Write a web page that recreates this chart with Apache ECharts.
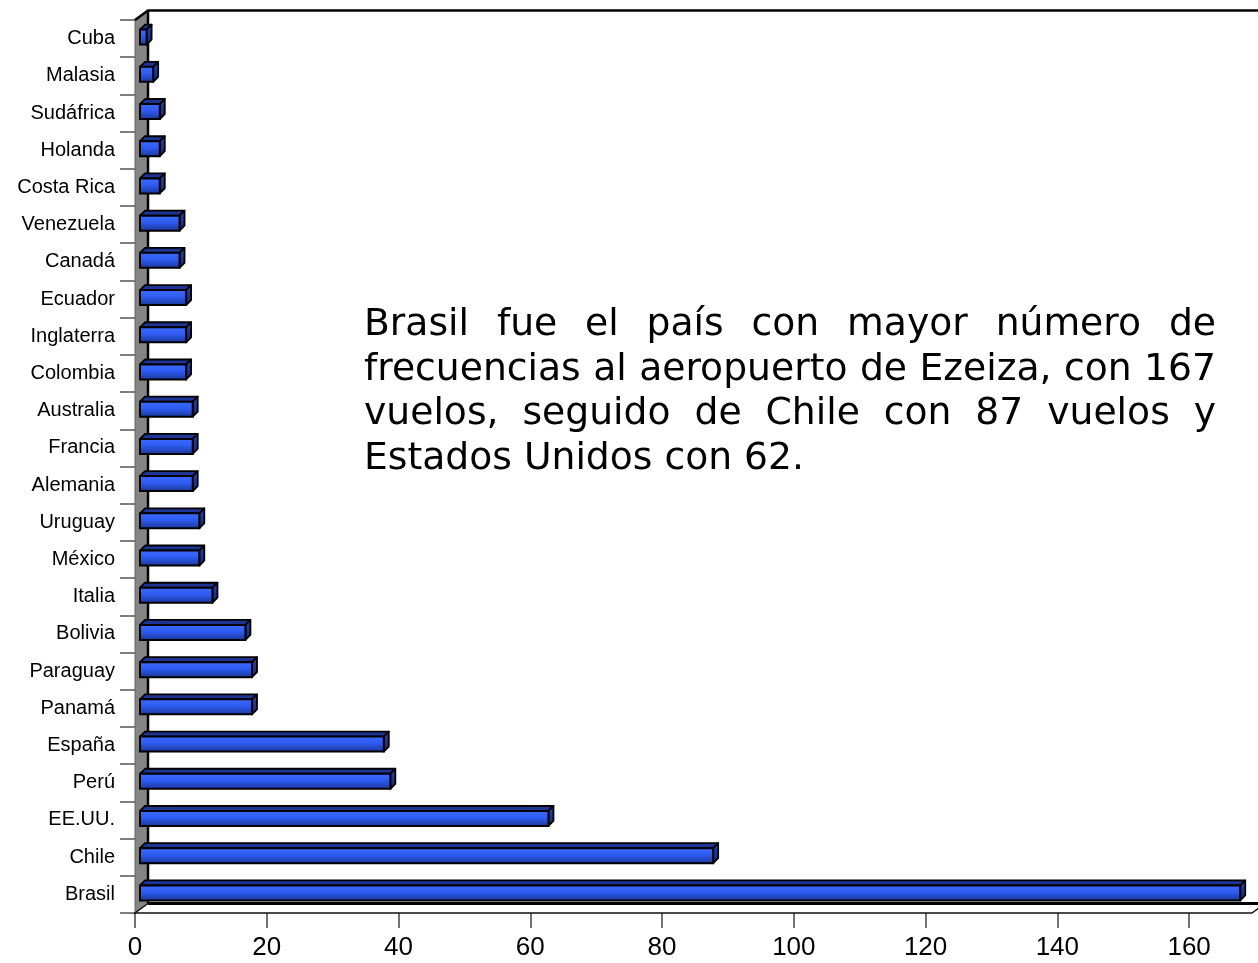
<!DOCTYPE html>
<html>
<head>
<meta charset="utf-8">
<script src="https://cdn.jsdelivr.net/npm/echarts@6/dist/echarts.min.js"></script>
<style>
html,body{margin:0;padding:0;background:#fff;}
#chart{width:1258px;height:963px;}
</style>
</head>
<body>
<div id="chart"></div>
<script>
// Categories from bottom to top
const categories = ['Brasil','Chile','EE.UU.','Perú','España','Panamá','Paraguay','Bolivia','Italia','México','Uruguay','Alemania','Francia','Australia','Colombia','Inglaterra','Ecuador','Canadá','Venezuela','Costa Rica','Holanda','Sudáfrica','Malasia','Cuba'];
const vuelos = [167,87,62,38,37,17,17,16,11,9,9,8,8,8,7,7,7,6,6,3,3,3,2,1];
const xTicks = [0,20,40,60,80,100,120,140,160];
const noteLines = [
  'Brasil fue el país con mayor número de',
  'frecuencias al aeropuerto de Ezeiza, con 167',
  'vuelos, seguido de Chile con 87 vuelos y',
  'Estados Unidos con 62.'
];

// layout constants
const G = {left:135, top:20, width:1120, height:893};
const DEPTH = {x:13, y:9.5};
const BAR = {dx:5, dy:5, h:15};
const baseY = G.top + G.height;

const chart = echarts.init(document.getElementById('chart'), null, {renderer:'canvas'});

const graphics = [];
// left wall
graphics.push({type:'polygon', z:0, shape:{points:[[G.left,G.top],[G.left+DEPTH.x,G.top-DEPTH.y],[G.left+DEPTH.x,baseY-DEPTH.y],[G.left,baseY]]},
  style:{fill:'#858585', stroke:'#666', lineWidth:1}});
graphics.push({type:'polyline', z:1, shape:{points:[[G.left,G.top],[G.left+DEPTH.x,G.top-DEPTH.y],[1270,G.top-DEPTH.y]]},
  style:{stroke:'#000', lineWidth:2.5, fill:null}});
graphics.push({type:'line', z:1, shape:{x1:G.left+DEPTH.x,y1:G.top-DEPTH.y,x2:G.left+DEPTH.x,y2:baseY-DEPTH.y},
  style:{stroke:'#000', lineWidth:2.5}});
// floor
const floorRight = 1252;
graphics.push({type:'polygon', z:0, shape:{points:[[G.left,baseY],[G.left+DEPTH.x,baseY-DEPTH.y],[floorRight+DEPTH.x,baseY-DEPTH.y],[floorRight,baseY]]},
  style:{fill:'#fff', stroke:null}});
graphics.push({type:'line', z:1, shape:{x1:G.left+DEPTH.x,y1:baseY-DEPTH.y,x2:1270,y2:baseY-DEPTH.y},
  style:{stroke:'#000', lineWidth:3}});
graphics.push({type:'polyline', z:1, shape:{points:[[G.left+DEPTH.x,baseY-DEPTH.y],[G.left,baseY],[floorRight,baseY],[floorRight+DEPTH.x,baseY-DEPTH.y]]},
  style:{stroke:'#111', lineWidth:1.5, fill:null}});

// justified note text
const NOTE = {left:364, right:1216, size:37.7, y:[344.5,389,433.5,478]};
const font = NOTE.size + 'px "DejaVu Sans"';
const cv = document.createElement('canvas').getContext('2d');
cv.font = font;
noteLines.forEach((line, li) => {
  const words = line.split(' ');
  const last = li === noteLines.length - 1;
  const widths = words.map(w => cv.measureText(w).width);
  const total = widths.reduce((a,b)=>a+b,0);
  const gap = last ? cv.measureText(' ').width : (NOTE.right - NOTE.left - total) / (words.length - 1);
  let x = NOTE.left;
  words.forEach((w, i) => {
    graphics.push({type:'text', z:10, x:x, y:NOTE.y[li],
      style:{text:w, font:font, fill:'#000', textAlign:'left', textVerticalAlign:'bottom', verticalAlign:'bottom'}});
    x += widths[i] + gap;
  });
});

const option = {
  animation:false,
  backgroundColor:'#fff',
  grid:{left:G.left, top:G.top, width:G.width, height:G.height, containLabel:false},
  xAxis:{type:'value', min:0, max:170, interval:10,
    axisLine:{show:false}, splitLine:{show:false},
    axisTick:{show:true, length:15, customValues:xTicks, lineStyle:{color:'#444', width:1.5}},
    axisLabel:{show:true, customValues:xTicks, margin:22, fontSize:26, color:'#000', fontFamily:'"Liberation Sans", Arial, sans-serif'}
  },
  yAxis:{type:'category', data:categories, boundaryGap:true,
    axisLine:{show:false},
    axisTick:{show:true, length:15, lineStyle:{color:'#555', width:1.5}},
    axisLabel:{margin:20, fontSize:20, color:'#000', fontFamily:'"Liberation Sans", Arial, sans-serif'}
  },
  series:[{
    type:'custom', z:5,
    encode:{x:0, y:1},
    data: vuelos.map((v,i)=>[v,i]),
    renderItem:function(params, api){
      const v = api.value(0), c = api.value(1);
      const p0 = api.coord([0, c]), p1 = api.coord([v, c]);
      const x0 = p0[0] + BAR.dx, x1 = p1[0] + BAR.dx;
      const yc = p0[1] - 1.5;
      const yt = yc - BAR.h/2, yb = yc + BAR.h/2;
      const dx = BAR.dx, dy = BAR.dy;
      return {type:'group', children:[
        {type:'polygon', shape:{points:[[x0,yt],[x0+dx,yt-dy],[x1+dx,yt-dy],[x1,yt]]},
          style:{fill:'#1f3596', stroke:'#000', lineWidth:1.8, lineJoin:'round'}},
        {type:'polygon', shape:{points:[[x1,yt],[x1+dx,yt-dy],[x1+dx,yb-dy],[x1,yb]]},
          style:{fill:new echarts.graphic.LinearGradient(0,0,0,1,[{offset:0,color:'#2a46b8'},{offset:1,color:'#142670'}]), stroke:'#000', lineWidth:1.8, lineJoin:'round'}},
        {type:'rect', shape:{x:x0, y:yt, width:Math.max(x1-x0,1), height:BAR.h},
          style:{fill:new echarts.graphic.LinearGradient(0,0,0,1,[{offset:0,color:'#3f6cff'},{offset:0.45,color:'#2e5cf2'},{offset:1,color:'#1a3494'}]), stroke:'#000', lineWidth:2}}
      ]};
    }
  }],
  graphic:{elements:graphics}
};
chart.setOption(option);
</script>
</body>
</html>
